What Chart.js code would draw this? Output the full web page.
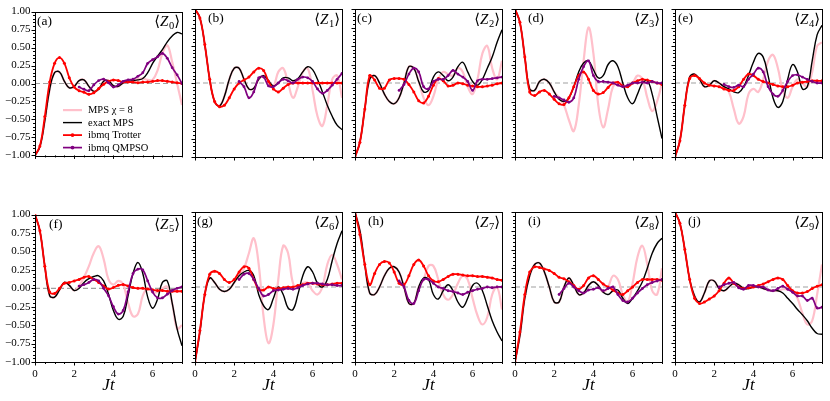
<!DOCTYPE html>
<html>
<head>
<meta charset="utf-8">
<title>Local magnetization dynamics</title>
<script src="https://cdn.jsdelivr.net/npm/chart.js@4.4.1/dist/chart.umd.min.js"></script>
<style>
  body { margin: 0; background: #fff; width: 830px; height: 401px; overflow: hidden; position: relative; }
  canvas { position: absolute; }
</style>
</head>
<body>
<script>
// time axis shared by every panel
const jt = [0, 0.25, 0.5, 0.75, 1, 1.25, 1.5, 1.75, 2, 2.25, 2.5, 2.75, 3, 3.25, 3.5, 3.75,
            4, 4.25, 4.5, 4.75, 5, 5.25, 5.5, 5.75, 6, 6.25, 6.5, 6.75, 7, 7.25, 7.5];
const panelTags = ['(a)', '(b)', '(c)', '(d)', '(e)', '(f)', '(g)', '(h)', '(i)', '(j)'];
const sites = ['0', '1', '2', '3', '4', '5', '6', '7', '8', '9'];
const xTicks = [0, 2, 4, 6];
const yTicks = [-1, -0.75, -0.5, -0.25, 0, 0.25, 0.5, 0.75, 1];
const N = null;

// MPS chi = 8, one row per site
const mpsChi8 = [
  [-1,-0.88,-0.52,-0.08,0.15,0.16,0.03,-0.06,-0.04,0.04,0.05,-0.04,-0.11,-0.08,0.03,0.04,-0.03,-0.04,0.01,0.04,0.05,0.06,0.07,0.05,0.05,0.18,0.42,0.53,0.3,0.0,-0.3],
  [1,0.88,0.52,0.05,-0.25,-0.31,-0.18,0.05,0.2,0.2,0.05,-0.08,-0.07,0.05,0.1,0.03,-0.04,0.15,0.2,0.0,-0.2,-0.05,0.15,0.2,-0.1,-0.45,-0.58,-0.3,0.05,0.1,-0.2],
  [-1,-0.8,-0.35,0.05,0.1,0.0,-0.15,-0.25,-0.28,-0.2,0.0,0.22,0.2,0.02,-0.2,-0.3,-0.18,0.05,0.15,0.12,0.1,0.2,0.15,-0.05,-0.15,0.05,0.4,0.5,0.2,0.05,0.3],
  [1,0.82,0.35,-0.08,-0.1,0.02,0.05,0.0,-0.12,-0.2,-0.3,-0.5,-0.65,-0.3,0.3,0.75,0.4,-0.3,-0.6,-0.35,-0.05,0.0,-0.02,-0.05,0.0,0.1,0.05,-0.2,-0.38,-0.25,0.0],
  [-1,-0.78,-0.3,0.08,0.12,0.05,-0.05,-0.03,0.03,0.0,-0.05,-0.12,-0.35,-0.55,-0.45,-0.15,-0.08,-0.12,0.05,0.3,0.38,0.2,-0.1,-0.2,-0.05,0.05,0.0,-0.05,0.15,0.5,0.55],
  [1,0.78,0.3,-0.1,-0.12,-0.02,0.08,0.04,-0.03,0.03,0.15,0.3,0.48,0.57,0.4,0.12,0.05,0.1,0.05,-0.2,-0.38,-0.35,-0.1,0.0,-0.05,-0.05,0.0,0.02,-0.2,-0.55,-0.5],
  [-1,-0.6,-0.1,0.12,0.06,-0.03,-0.06,-0.03,0.06,0.15,0.25,0.45,0.65,0.3,-0.4,-0.75,-0.5,0.1,0.55,0.45,0.05,-0.02,0.05,0.05,-0.05,-0.1,0.0,0.3,0.43,0.3,0.1],
  [1,0.75,0.3,-0.08,-0.1,0.0,0.15,0.25,0.27,0.2,0.0,-0.22,-0.22,0.0,0.1,0.28,0.28,0.1,-0.1,-0.17,-0.1,0.05,0.15,0.1,-0.15,-0.38,-0.5,-0.4,-0.1,0.0,-0.3],
  [-1,-0.65,-0.15,0.15,0.3,0.32,0.2,0.0,-0.2,-0.2,0.0,0.12,0.02,-0.1,-0.08,0.02,0.07,0.02,-0.07,0.0,0.15,0.1,-0.1,-0.2,0.05,0.4,0.55,0.3,-0.05,-0.1,0.25],
  [1,0.85,0.5,0.1,-0.12,-0.2,-0.08,0.08,0.08,-0.02,-0.05,0.0,0.05,0.03,-0.02,-0.02,0.0,0.0,-0.02,-0.04,-0.05,-0.05,-0.03,-0.03,-0.05,-0.15,-0.35,-0.5,-0.45,-0.1,0.3]
];

// exact MPS
const exactMps = [
  [-1,-0.88,-0.52,-0.08,0.15,0.16,0.03,-0.06,-0.04,0.04,0.05,-0.04,-0.11,-0.08,0.03,0.04,-0.03,-0.04,0.01,0.03,0.04,0.05,0.07,0.15,0.28,0.38,0.47,0.58,0.66,0.71,0.69],
  [1,0.88,0.52,0.05,-0.25,-0.31,-0.18,0.05,0.2,0.2,0.05,-0.08,-0.07,0.05,0.1,0.03,-0.04,0.0,0.07,0.07,0.03,0.06,0.15,0.22,0.18,0.05,-0.12,-0.3,-0.45,-0.57,-0.63],
  [-1,-0.8,-0.35,0.05,0.1,0.0,-0.15,-0.25,-0.28,-0.2,0.0,0.22,0.2,0.02,-0.12,-0.1,0.08,0.15,0.1,0.03,0.08,0.22,0.28,0.15,0.02,-0.03,0.05,0.2,0.35,0.55,0.72],
  [1,0.82,0.35,-0.08,-0.1,0.02,0.05,0.0,-0.12,-0.22,-0.25,-0.2,-0.05,0.15,0.27,0.3,0.18,0.07,0.1,0.25,0.3,0.22,0.0,-0.2,-0.28,-0.15,0.0,0.03,-0.15,-0.45,-0.75],
  [-1,-0.78,-0.3,0.08,0.12,0.05,-0.05,-0.03,0.03,0.0,-0.05,-0.08,-0.12,-0.13,-0.05,0.1,0.28,0.4,0.35,0.1,-0.2,-0.33,-0.25,0.05,0.25,0.15,-0.08,-0.05,0.3,0.65,0.78],
  [1,0.78,0.3,-0.1,-0.12,-0.02,0.08,0.04,-0.03,0.0,0.08,0.13,0.16,0.17,0.1,-0.08,-0.3,-0.42,-0.38,-0.1,0.2,0.35,0.2,-0.12,-0.27,-0.15,0.08,0.1,-0.2,-0.55,-0.78],
  [-1,-0.6,-0.1,0.12,0.06,-0.03,-0.06,-0.03,0.06,0.15,0.2,0.22,0.15,-0.1,-0.25,-0.3,-0.15,0.0,-0.1,-0.28,-0.3,-0.1,0.15,0.27,0.2,0.05,0.0,0.1,0.35,0.58,0.75],
  [1,0.75,0.3,-0.08,-0.1,0.0,0.15,0.25,0.27,0.2,0.0,-0.22,-0.22,0.0,0.12,0.1,-0.1,-0.16,-0.05,0.03,-0.05,-0.2,-0.27,-0.15,0.02,0.05,-0.05,-0.25,-0.45,-0.6,-0.72],
  [-1,-0.65,-0.15,0.15,0.3,0.32,0.2,0.0,-0.2,-0.2,0.0,0.12,0.02,-0.1,-0.08,0.02,0.07,0.02,-0.07,-0.1,-0.05,-0.04,-0.15,-0.22,-0.15,-0.05,0.07,0.25,0.45,0.58,0.65],
  [1,0.85,0.5,0.1,-0.12,-0.2,-0.08,0.08,0.08,-0.02,-0.05,0.0,0.05,0.03,-0.02,-0.02,0.0,0.0,-0.02,-0.04,-0.05,-0.05,-0.08,-0.15,-0.22,-0.3,-0.37,-0.45,-0.55,-0.62,-0.63]
];

// ibmq Trotter
const ibmqTrotter = [
  [-1,-0.87,-0.46,0.02,0.28,0.36,0.28,0.08,-0.05,-0.1,-0.12,-0.15,-0.13,-0.07,-0.01,0.03,0.05,0.04,0.02,0.02,0.02,0.01,0.02,0.02,0.03,0.04,0.04,0.03,0.02,0.01,0.0],
  [1,0.88,0.52,0.05,-0.25,-0.32,-0.3,-0.2,-0.08,0.0,0.04,0.08,0.15,0.2,0.17,0.02,-0.08,-0.12,-0.07,-0.02,0.0,0.0,0.0,0.0,0.0,0.0,0.0,0.0,0.0,0.0,0.0],
  [-1,-0.8,-0.35,0.1,0.04,-0.07,-0.07,0.04,0.06,0.06,0.05,-0.02,-0.12,-0.24,-0.27,-0.18,-0.03,0.06,0.03,-0.04,-0.03,0.0,-0.01,-0.03,-0.04,-0.05,-0.05,-0.04,-0.03,-0.01,0.0],
  [1,0.82,0.35,-0.12,-0.17,-0.12,-0.1,-0.15,-0.22,-0.28,-0.29,-0.2,-0.05,0.1,0.15,0.05,-0.1,-0.15,-0.13,-0.06,0.0,0.01,-0.04,-0.05,0.0,0.03,0.05,0.04,0.02,0.0,-0.02],
  [-1,-0.78,-0.3,0.06,0.1,0.06,0.0,-0.03,-0.04,-0.05,-0.08,-0.1,-0.1,-0.05,0.05,0.12,0.1,0.05,0.02,0.0,-0.02,-0.04,-0.05,-0.05,-0.03,0.0,0.01,0.02,0.03,0.03,0.03],
  [1,0.78,0.3,-0.05,-0.07,0.0,0.07,0.08,0.1,0.12,0.15,0.16,0.12,0.08,0.03,-0.01,0.01,0.04,0.05,0.03,0.01,0.0,0.0,-0.01,-0.02,-0.03,-0.03,-0.04,-0.04,-0.04,-0.04],
  [-1,-0.58,-0.1,0.17,0.21,0.18,0.1,0.06,0.1,0.2,0.27,0.25,0.1,-0.03,-0.04,0.0,-0.02,-0.02,-0.01,0.0,0.0,0.02,0.03,0.05,0.05,0.04,0.03,0.03,0.04,0.05,0.05],
  [1,0.7,0.3,0.03,0.18,0.3,0.34,0.32,0.2,0.05,0.03,0.15,0.3,0.36,0.28,0.15,0.08,0.07,0.1,0.14,0.17,0.17,0.16,0.15,0.15,0.14,0.14,0.13,0.12,0.1,0.09],
  [-1,-0.6,-0.1,0.2,0.27,0.26,0.24,0.22,0.18,0.13,0.11,0.07,0.02,-0.03,0.02,0.12,0.15,0.1,0.04,0.0,-0.04,-0.08,-0.1,-0.05,0.0,0.06,0.1,0.1,0.1,0.1,0.09],
  [1,0.85,0.5,0.1,-0.15,-0.22,-0.2,-0.16,-0.12,-0.05,0.05,0.12,0.05,0.0,-0.02,-0.01,0.0,0.02,0.04,0.07,0.1,0.12,0.1,0.02,-0.05,-0.08,-0.08,-0.06,-0.02,0.01,0.03]
];

// ibmq QMPSO (starts later in time)
const ibmqQmpso = [
  [N,N,N,N,N,N,N,N,N,-0.05,-0.08,-0.1,-0.02,0.04,0.06,0.01,-0.05,-0.02,0.03,0.05,0.06,0.1,0.15,0.28,0.33,0.37,0.42,0.35,0.22,0.12,0.0],
  [N,N,N,N,N,N,N,N,N,0.02,-0.05,-0.2,-0.12,0.07,0.08,-0.04,-0.05,0.0,0.05,0.03,0.0,0.05,0.08,0.07,0.02,-0.08,-0.14,-0.1,-0.03,0.05,0.13],
  [N,N,N,N,N,N,N,N,N,-0.1,-0.02,0.12,0.2,0.15,-0.05,-0.08,0.02,0.05,0.05,0.1,0.17,0.12,0.08,0.02,-0.1,0.03,0.05,0.05,0.06,0.07,0.08],
  [N,N,N,N,N,N,N,N,-0.18,-0.2,-0.23,-0.26,-0.2,0.05,0.22,0.3,0.1,0.02,0.02,0.01,0.0,-0.03,-0.05,-0.03,0.0,0.0,0.01,0.0,0.02,0.0,0.0],
  [N,N,N,N,N,N,N,N,N,N,-0.02,-0.05,-0.06,-0.03,-0.05,0.05,0.12,0.2,0.15,-0.05,-0.15,-0.18,-0.1,0.02,0.1,0.11,0.08,0.05,0.02,0.0,0.0],
  [N,N,N,N,N,N,N,N,N,0.03,0.05,0.08,0.12,0.1,0.0,-0.1,-0.25,-0.35,-0.3,-0.05,0.2,0.26,0.25,0.1,-0.05,-0.13,-0.13,-0.08,-0.03,0.0,0.02],
  [N,N,N,N,N,N,N,N,N,0.1,0.17,0.18,0.1,-0.02,-0.12,-0.1,-0.05,-0.04,-0.03,-0.02,-0.03,-0.01,0.02,0.04,0.05,0.05,0.04,0.03,0.03,0.02,0.02],
  [N,N,N,N,N,N,N,N,N,0.08,0.0,-0.18,-0.22,-0.05,0.1,0.1,0.05,0.0,-0.02,-0.05,-0.06,-0.08,-0.1,-0.07,-0.05,-0.03,-0.02,0.0,-0.01,0.0,0.0],
  [N,N,N,N,N,N,N,N,N,-0.1,-0.02,0.05,0.0,-0.05,-0.08,-0.04,-0.03,-0.01,-0.05,-0.02,0.0,-0.1,-0.18,-0.2,-0.15,-0.08,-0.02,0.03,0.06,0.08,0.1],
  [N,N,N,N,N,N,N,N,N,0.0,0.03,0.05,0.06,-0.01,-0.03,0.02,0.02,0.0,0.0,-0.04,-0.05,-0.02,0.01,-0.03,-0.07,-0.12,-0.12,-0.18,-0.15,-0.28,-0.27]
];

const serif = '"Liberation Serif", "DejaVu Serif", serif';
const tagShift = [2, 13, 2, 13, 3, 14, 2, 13, 13, 13];

const series = [
  { label: 'MPS χ = 8',    src: mpsChi8,     color: '#ffc0cb', width: 2.2, dot: 0,   order: 4 },
  { label: 'exact MPS',    src: exactMps,    color: '#000000', width: 1.4, dot: 0,   order: 3 },
  { label: 'ibmq Trotter', src: ibmqTrotter, color: '#ff0000', width: 1.8, dot: 1.5, order: 2 },
  { label: 'ibmq QMPSO',   src: ibmqQmpso,   color: '#800080', width: 1.7, dot: 1.4, order: 1 }
];

const decor = {
  id: 'decor',
  beforeDatasetsDraw(chart) {
    const { ctx, chartArea: a, scales: { y } } = chart;
    const y0 = y.getPixelForValue(0);
    ctx.save();
    ctx.strokeStyle = '#a0a0a0';
    ctx.lineWidth = 1.2;
    ctx.setLineDash([5, 3]);
    ctx.beginPath();
    ctx.moveTo(a.left, y0);
    ctx.lineTo(a.right, y0);
    ctx.stroke();
    ctx.restore();
  },
  afterDraw(chart, args, o) {
    const { ctx, chartArea: a, scales: { x, y } } = chart;
    ctx.save();
    ctx.strokeStyle = '#000';
    ctx.lineWidth = 1;
    ctx.strokeRect(Math.round(a.left) + 0.5, Math.round(a.top) + 0.5,
                   Math.round(a.right - a.left), Math.round(a.bottom - a.top));
    // major and minor ticks, outward
    ctx.beginPath();
    for (let k = -20; k <= 20; k++) {
      const py = Math.round(y.getPixelForValue(k / 20)) + 0.5;
      const len = k % 5 === 0 ? 3.5 : 2;
      ctx.moveTo(a.left, py);
      ctx.lineTo(a.left - len, py);
    }
    for (let k = 0; k <= 15; k++) {
      const px = Math.round(x.getPixelForValue(k / 2)) + 0.5;
      const len = k % 4 === 0 ? 3.5 : 2;
      ctx.moveTo(px, a.bottom);
      ctx.lineTo(px, a.bottom + len);
    }
    ctx.stroke();

    // panel tag
    ctx.fillStyle = '#000';
    ctx.textBaseline = 'alphabetic';
    ctx.font = '13.5px ' + serif;
    ctx.fillText(o.tag, a.left + o.shift, a.top + 13);

    // <Z_n>
    const big = '15px ' + serif, ital = 'italic 15px ' + serif, sub = '10.5px ' + serif;
    ctx.font = big; const wR = ctx.measureText('⟩').width, wL = ctx.measureText('⟨').width;
    ctx.font = sub; const wS = ctx.measureText(o.site).width;
    ctx.font = ital; const wZ = ctx.measureText('Z').width + 0.5;
    const base = a.top + 14.5;
    let px = a.right - 2 - wR - wS - wZ - wL;
    ctx.font = big; ctx.fillText('⟨', px, base); px += wL;
    ctx.font = ital; ctx.fillText('Z', px, base); px += wZ;
    ctx.font = sub; ctx.fillText(o.site, px, base + 3); px += wS;
    ctx.font = big; ctx.fillText('⟩', px, base);

    // legend inside panel (a)
    if (o.legend) {
      ctx.font = '10.5px ' + serif;
      ctx.textBaseline = 'middle';
      chart.data.datasets.forEach((ds, j) => {
        const ly = a.top + 98.5 + 12.5 * j;
        ctx.strokeStyle = ds.borderColor;
        ctx.lineWidth = ds.borderWidth;
        ctx.beginPath();
        ctx.moveTo(a.left + 28, ly);
        ctx.lineTo(a.left + 47, ly);
        ctx.stroke();
        if (ds.pointRadius > 0) {
          ctx.fillStyle = ds.borderColor;
          ctx.beginPath();
          ctx.arc(a.left + 37.5, ly, 1.9, 0, Math.PI * 2);
          ctx.fill();
        }
        ctx.fillStyle = '#000';
        ctx.fillText(ds.label, a.left + 53, ly + 0.5);
      });
    }
    ctx.restore();
  }
};

function minusFmt(v) {
  return (v < 0 ? '\u2212' : '') + Math.abs(v).toFixed(2);
}

for (let i = 0; i < 10; i++) {
  const col = i % 5, row = Math.floor(i / 5);
  const cv = document.createElement('canvas');
  cv.width = 186;
  cv.height = row ? 192 : 159;
  cv.style.left = (col * 160) + 'px';
  cv.style.top = (row ? 207 : 4) + 'px';
  document.body.appendChild(cv);

  const datasets = series.map(s => ({
    label: s.label,
    data: jt.map((t, k) => ({ x: t, y: s.src[i][k] })),
    borderColor: s.color,
    backgroundColor: s.color,
    borderWidth: s.width,
    pointRadius: s.dot,
    pointBorderWidth: 0,
    pointBackgroundColor: s.color,
    tension: 0.4,
    fill: false,
    order: s.order
  }));

  new Chart(cv, {
    type: 'line',
    data: { datasets },
    options: {
      responsive: false,
      animation: false,
      layout: { padding: { left: 0, right: 3, top: 5, bottom: 0 } },
      plugins: {
        legend: { display: false },
        tooltip: { enabled: false },
        decor: { tag: panelTags[i], shift: tagShift[i], site: sites[i], legend: i === 0 }
      },
      scales: {
        x: {
          type: 'linear', min: 0, max: 7.5,
          afterBuildTicks: s => { s.ticks = xTicks.map(v => ({ value: v })); },
          afterFit: s => { s.height = row ? 37 : 6; },
          grid: { display: false, drawTicks: true, tickLength: 3.5 },
          border: { display: false },
          ticks: { display: row === 1, padding: 2, maxRotation: 0, color: '#000',
                   font: { family: serif, size: 11 } },
          title: { display: row === 1, text: 'Jt', color: '#000',
                   font: { family: serif, size: 17, style: 'italic' },
                   padding: { top: 0, bottom: 3 } }
        },
        y: {
          min: -1, max: 1,
          afterBuildTicks: s => { s.ticks = yTicks.map(v => ({ value: v })); },
          afterFit: s => { s.width = 35; },
          grid: { display: false, drawTicks: true, tickLength: 3.5 },
          border: { display: false },
          ticks: { display: col === 0, padding: 1, color: '#000', callback: minusFmt,
                   font: { family: serif, size: 11 } }
        }
      }
    },
    plugins: [decor]
  });
}
</script>
</body>
</html>
